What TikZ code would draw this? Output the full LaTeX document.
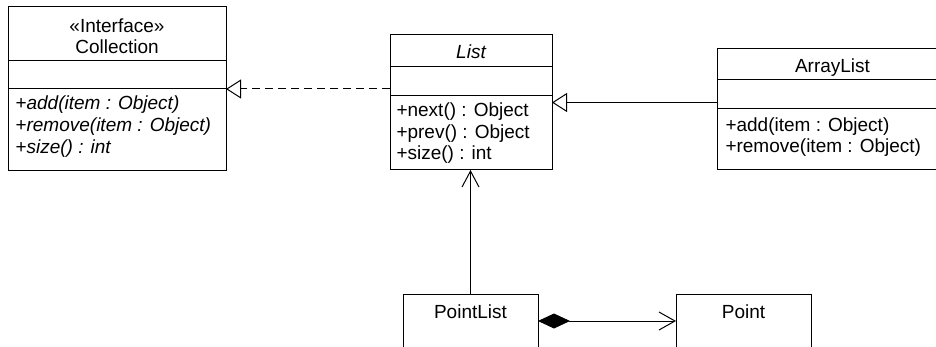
\documentclass[tikz,border=0pt]{standalone}
\usepackage{fontspec}
\setmainfont{Liberation Sans}
\usetikzlibrary{arrows.meta}

\begin{document}
\begin{tikzpicture}[
    x=1pt, y=-1pt,
    line width=1pt,
    every node/.style={font=\fontsize{19}{22}\selectfont, inner sep=0pt},
    classbox/.style={draw, rectangle, anchor=north west, outer sep=0pt},
    member/.style={anchor=base west},
    title/.style={anchor=base},
    realize/.style={dash pattern=on 8pt off 5pt, -{Triangle[open, length=15pt, width=19pt]}},
    extend/.style={-{Triangle[open, length=15pt, width=19pt]}},
    assoc/.style={-{Straight Barb[length=16pt, width=17pt]}},
    compose/.style={{Diamond[length=32pt, width=15pt]}-{Straight Barb[length=16pt, width=18pt]}}
]

\useasboundingbox (0,0) rectangle (936,347);
\clip (0,0) rectangle (936,347);

% Collection
\node[classbox, minimum width=218pt, minimum height=164pt] (coll) at (8,7) {};
\draw (coll.west |- 0,61) -- (coll.east |- 0,61);
\draw (coll.west |- 0,89) -- (coll.east |- 0,89);
\node[title] (collst) at (117,33) {«Interface»};
\node[title] (collnm) at (117,54) {Collection};
\node[member] at (15,110) {\itshape +add(item : Object)};
\node[member] at (15,132) {\itshape +remove(item : Object)};
\node[member] at (15,154) {\itshape +size() : int};

% List
\node[classbox, minimum width=162pt, minimum height=135pt] (list) at (390,35) {};
\draw (list.west |- 0,67) -- (list.east |- 0,67);
\draw (list.west |- 0,96) -- (list.east |- 0,96);
\node[title] (listnm) at (471,59) {\itshape List};
\node[member] at (396,117) {+next() : Object};
\node[member] at (396,138.5) {+prev() : Object};
\node[member] at (396,160) {+size() : int};

% ArrayList
\node[classbox, minimum width=231pt, minimum height=121pt] (alist) at (717,49) {};
\draw (alist.west |- 0,80) -- (alist.east |- 0,80);
\draw (alist.west |- 0,109) -- (alist.east |- 0,109);
\node[title] (alistnm) at (832.5,73) {ArrayList};
\node[member] at (725,132) {+add(item : Object)};
\node[member] at (725,153) {+remove(item : Object)};

% PointList and Point
\node[classbox, minimum width=135pt, minimum height=54pt] (plist) at (403,294) {};
\node[title] (plistnm) at (plist.north |- 0,318) {PointList};
\node[classbox, minimum width=135pt, minimum height=54pt] (point) at (676,294) {};
\node[title] (pointnm) at (point.north |- 0,318) {Point};

% Relations
\draw[realize] (coll.east -| list.west) -- (coll.east);
\draw[extend] (list.east -| alist.west) -- (list.east);
\draw[assoc] (plist.north) -- (plist.north |- list.south);
\draw[compose] (plist.east) -- (point.west);

\end{tikzpicture}
\end{document}
